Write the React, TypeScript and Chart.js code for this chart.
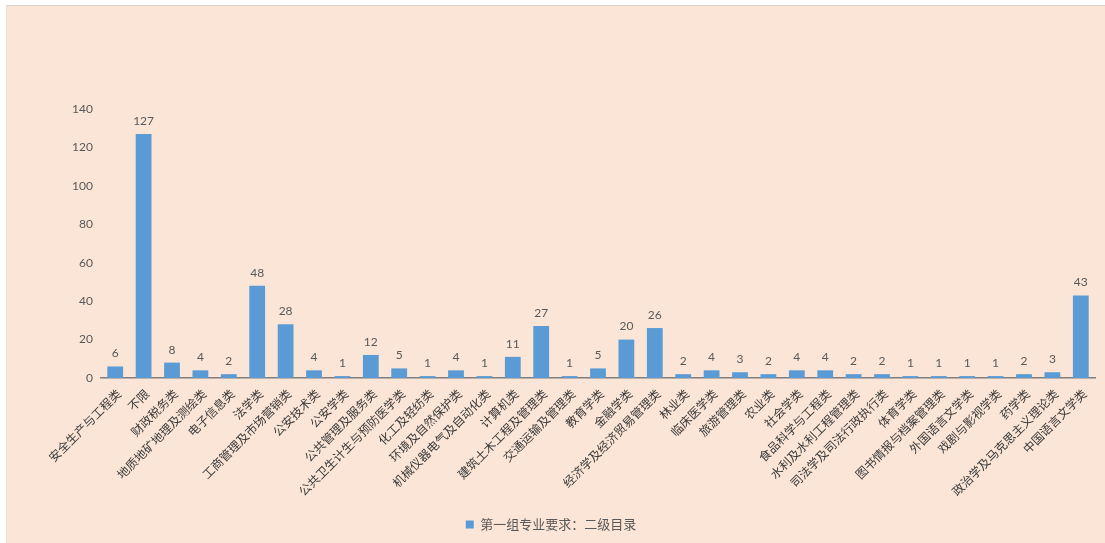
import React, { useEffect, useRef } from "react";
import { Chart, registerables } from "chart.js";

Chart.register(...registerables);

const categories: string[] = [
  "安全生产与工程类", "不限", "财政税务类", "地质地矿地理及测绘类", "电子信息类",
  "法学类", "工商管理及市场营销类", "公安技术类", "公安学类", "公共管理及服务类",
  "公共卫生计生与预防医学类", "化工及轻纺类", "环境及自然保护类", "机械仪器电气及自动化类", "计算机类",
  "建筑土木工程及管理类", "交通运输及管理类", "教育学类", "金融学类", "经济学及经济贸易管理类",
  "林业类", "临床医学类", "旅游管理类", "农业类", "社会学类",
  "食品科学与工程类", "水利及水利工程管理类", "司法学及司法行政执行类", "体育学类", "图书情报与档案管理类",
  "外国语言文学类", "戏剧与影视学类", "药学类", "政治学及马克思主义理论类", "中国语言文学类",
];

const values: number[] = [
  6, 127, 8, 4, 2,
  48, 28, 4, 1, 12,
  5, 1, 4, 1, 11,
  27, 1, 5, 20, 26,
  2, 4, 3, 2, 4,
  4, 2, 2, 1, 1,
  1, 1, 2, 3, 43,
];

const seriesName = "第一组专业要求：二级目录";
const yTicks: number[] = [0, 20, 40, 60, 80, 100, 120, 140];

const FONT = 'Lato, "Noto Sans CJK SC", sans-serif';

const valueLabels = {
  id: "valueLabels",
  afterDatasetsDraw(chart: any) {
    const { ctx } = chart;
    const meta = chart.getDatasetMeta(0);
    ctx.save();
    ctx.font = `12px ${FONT}`;
    ctx.fillStyle = "#595959";
    ctx.textAlign = "center";
    ctx.textBaseline = "bottom";
    meta.data.forEach((bar: any, i: number) => {
      ctx.fillText(String(values[i]), bar.x, bar.y - 7);
    });
    ctx.restore();
  },
};

export default function App() {
  const ref = useRef<HTMLCanvasElement | null>(null);

  useEffect(() => {
    document.body.style.margin = "0";
    const canvas = ref.current;
    if (!canvas) return;
    const chart = new Chart(canvas, {
      type: "bar",
      data: {
        labels: categories,
        datasets: [
          {
            label: seriesName,
            data: values,
            backgroundColor: "#5B9BD5",
            borderWidth: 0,
            categoryPercentage: 1,
            barPercentage: 0.556,
          },
        ],
      },
      options: {
        animation: false,
        responsive: false,
        maintainAspectRatio: false,
        layout: { padding: { left: 0, right: 10, top: 103, bottom: 2 } },
        plugins: {
          tooltip: { enabled: false },
          legend: {
            display: true,
            position: "bottom",
            labels: {
              boxWidth: 8,
              boxHeight: 8,
              padding: 8,
              color: "#595959",
              font: { size: 13, family: FONT },
            },
          },
        },
        scales: {
          x: {
            grid: { display: false, drawTicks: false },
            border: { display: true, color: "#7f7f7f", width: 1.5 },
            ticks: {
              autoSkip: false,
              minRotation: 45,
              maxRotation: 45,
              padding: 9,
              labelOffset: 4,
              color: "#3a3a3a",
              font: { size: 12, family: FONT },
            },
            afterFit: (scale: any) => {
              scale.height = 132;
            },
          },
          y: {
            min: 0,
            max: 140,
            afterBuildTicks: (scale: any) => {
              scale.ticks = yTicks.map((v) => ({ value: v }));
            },
            grid: { display: false, drawTicks: false },
            border: { display: false },
            ticks: {
              padding: 8,
              color: "#595959",
              font: { size: 12, family: FONT },
            },
            afterFit: (scale: any) => {
              scale.width = 94;
            },
          },
        },
      },
      plugins: [valueLabels],
    });
    return () => chart.destroy();
  }, []);

  return (
    <div style={{ position: "relative", width: 1105, height: 543, background: "#ffffff", overflow: "hidden" }}>
      <div
        style={{
          position: "absolute",
          left: 6,
          top: 5,
          width: 1099,
          height: 538,
          boxSizing: "border-box",
          borderTop: "1px solid #d4d0cc",
          borderLeft: "1px solid #ecdcd0",
          background: "#FBE5D6",
        }}
      >
        <canvas ref={ref} width={1098} height={537} style={{ display: "block", width: 1098, height: 537 }} />
      </div>
    </div>
  );
}
